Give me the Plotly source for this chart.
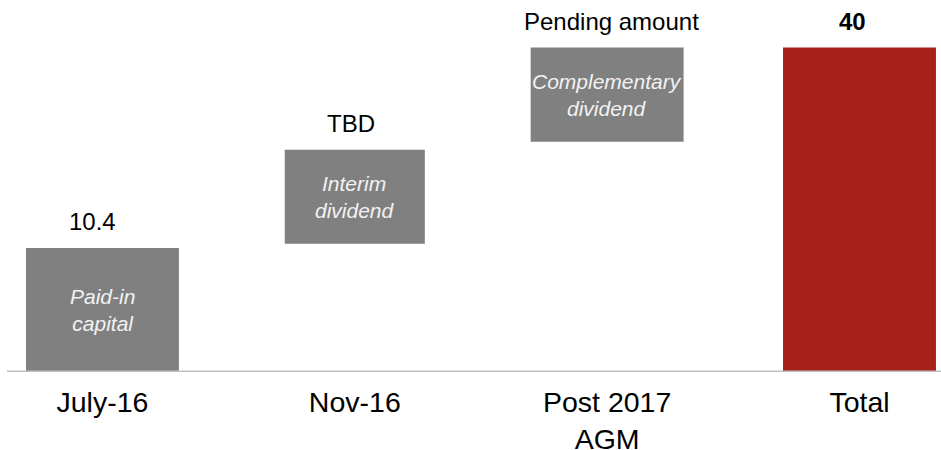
import plotly.graph_objects as go

# ---- data (the chart is schematic, not to scale) ----
categories = ["July-16", "Nov-16", "Post 2017<br>AGM", "Total"]
bar_base = [0, 15.8, 28.4, 0]
bar_top = [15.3, 27.4, 40, 40]
value_labels = ["10.4", "TBD", "Pending amount", "<b>40</b>"]
inner_labels = ["Paid-in<br>capital", "Interim<br>dividend", "Complementary<br>dividend", ""]

# ---- styling ----
bar_colors = ["#808080", "#808080", "#808080", "#A6211A"]
bar_widths = [0.606, 0.555, 0.606, 0.606]
label_xshift = [-10, -4, 4, -7]
FONT = "Arial, 'Liberation Sans', sans-serif"

heights = [t - b for t, b in zip(bar_top, bar_base)]

fig = go.Figure(
    go.Bar(
        x=categories,
        y=heights,
        base=bar_base,
        width=bar_widths,
        marker=dict(color=bar_colors, line=dict(width=0)),
        hoverinfo="skip",
    )
)

annotations = []
for i, cat in enumerate(categories):
    annotations.append(dict(
        x=cat, y=bar_top[i], xref="x", yref="y",
        text=value_labels[i], showarrow=False,
        yanchor="bottom", yshift=11, xshift=label_xshift[i],
        font=dict(family=FONT, size=24, color="#000000"),
    ))
    if inner_labels[i]:
        annotations.append(dict(
            x=cat, y=(bar_base[i] + bar_top[i]) / 2, xref="x", yref="y",
            text="<i>" + inner_labels[i] + "</i>", showarrow=False,
            yanchor="middle",
            font=dict(family=FONT, size=21, color="#F2F2F2"),
        ))

fig.update_layout(
    width=941, height=450,
    margin=dict(l=0, r=0, t=20, b=78, autoexpand=False),
    paper_bgcolor="white", plot_bgcolor="white",
    showlegend=False,
    annotations=annotations,
    font=dict(family=FONT),
    shapes=[dict(
        type="line", xref="paper", yref="y",
        x0=7 / 941, x1=1, y0=0, y1=0,
        line=dict(color="#C0C0C0", width=3), layer="above",
    )],
)
fig.update_xaxes(
    type="category", range=[-0.406, 3.323], automargin=False,
    showgrid=False, zeroline=False, showline=False, ticks="",
    ticklabelstandoff=10,
    tickfont=dict(family=FONT, size=28.5, color="#000000"),
)
fig.update_yaxes(
    range=[0, 43.4], visible=False, showgrid=False, zeroline=False,
    automargin=False,
)

fig.write_html(
    "out.html",
    config={"displayModeBar": False, "staticPlot": True},
    post_script="document.body.style.margin='0px';document.body.style.overflow='hidden';",
)
